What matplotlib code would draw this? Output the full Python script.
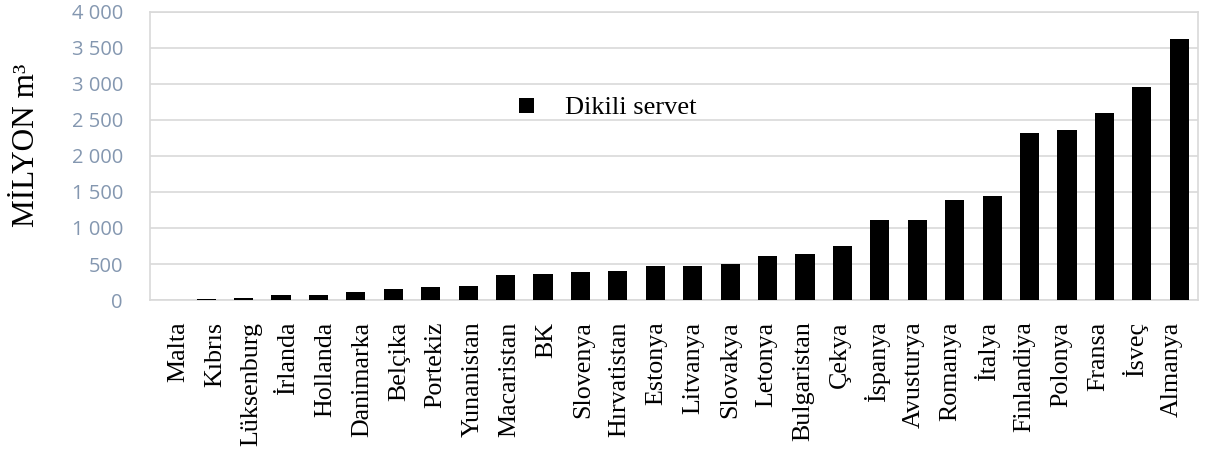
#!/usr/bin/env python3
"""
Dikili servet (growing stock) by country, bar chart in million m3.
"""

import matplotlib
matplotlib.use("Agg")
import matplotlib.pyplot as plt
from matplotlib.ticker import FuncFormatter
import numpy as np

# Countries, sorted by growing stock
countries = ['Malta', 'Kıbrıs', 'Lüksenburg', 'İrlanda', 'Hollanda', 'Danimarka',
             'Belçika', 'Portekiz', 'Yunanistan', 'Macaristan', 'BK', 'Slovenya',
             'Hırvatistan', 'Estonya', 'Litvanya', 'Slovakya', 'Letonya',
             'Bulgaristan', 'Çekya', 'İspanya', 'Avusturya', 'Romanya', 'İtalya',
             'Finlandiya', 'Polonya', 'Fransa', 'İsveç', 'Almanya']

# Growing stock, million m3
stock = [6, 8, 30, 69, 72, 116, 157, 176, 199, 343, 366, 394, 396, 472, 477,
         505, 606, 639, 745, 1107, 1116, 1389, 1440, 2315, 2366, 2593, 2953, 3620]

y_ticks = [0, 500, 1000, 1500, 2000, 2500, 3000, 3500, 4000]

SERIES_LABEL = 'Dikili servet'
Y_LABEL = 'MİLYON m³'

GRID_COLOR = '#d9d9d9'
TICK_COLOR = '#8497b0'


def thousands(v, pos):
    """Format numbers with a space as thousands separator (4 000)."""
    return f"{int(v):,}".replace(',', ' ')


def plot_stock():
    fig = plt.figure(figsize=(12.08, 4.54), dpi=100)
    ax = fig.add_axes([0.1242, 0.3392, 0.8675, 0.6344])

    x = np.arange(len(countries))
    ax.bar(x, stock, width=0.51, color='black', label=SERIES_LABEL, zorder=3)

    # Axes limits and grid
    ax.set_xlim(-0.5, len(countries) - 0.5)
    ax.set_ylim(0, 4000)
    ax.set_yticks(y_ticks)
    ax.yaxis.set_major_formatter(FuncFormatter(thousands))
    ax.grid(axis='y', color=GRID_COLOR, linewidth=1.2, zorder=0)
    for side in ax.spines.values():
        side.set_color(GRID_COLOR)
        side.set_linewidth(1.2)

    # Category labels sit slightly tighter than the bars
    ax.set_xticks(0.25 + x * 0.983)
    ax.set_xticklabels(countries, rotation=90, family='Liberation Serif',
                       fontsize=18.7)
    ax.tick_params(axis='x', length=0, pad=15.5)
    ax.tick_params(axis='y', length=0, pad=19.5, labelcolor=TICK_COLOR,
                   labelsize=14.5)
    for lbl in ax.get_yticklabels():
        lbl.set_family('Open Sans')

    fig.text(0.022, 0.68, Y_LABEL, rotation=90, ha='center', va='center',
             family='Liberation Serif', fontsize=22.5)

    ax.legend(loc='center left', bbox_to_anchor=(0.352, 0.665), frameon=False,
              prop={'family': 'Liberation Serif', 'size': 19},
              handlelength=0.58, handleheight=0.5, handletextpad=1.18,
              borderpad=0, borderaxespad=0)

    fig.savefig('out.png', dpi=100)


if __name__ == '__main__':
    plot_stock()
